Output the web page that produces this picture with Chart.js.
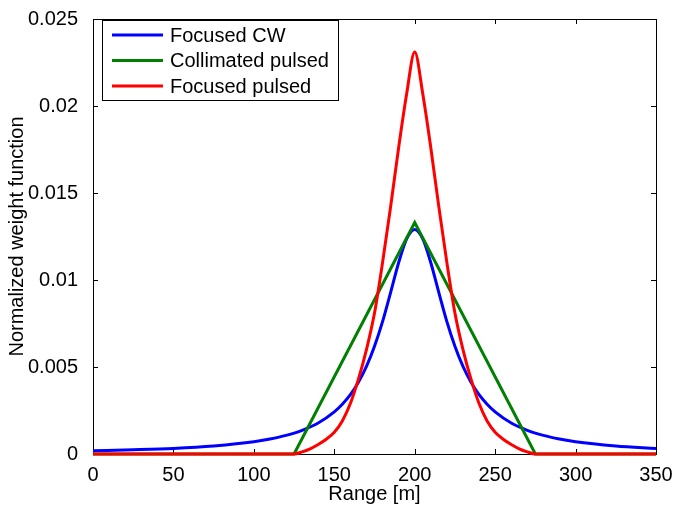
<!DOCTYPE html>
<html>
<head>
<meta charset="utf-8">
<script src="https://cdn.jsdelivr.net/npm/chart.js@4.4.0/dist/chart.umd.min.js"></script>
<style>
  html, body { margin: 0; padding: 0; background: #fff; }
  canvas { display: block; }
</style>
</head>
<body>
<canvas id="weightChart" width="674" height="508"></canvas>
<script>
// axis ticks
const xTicks = [0, 50, 100, 150, 200, 250, 300, 350];
const yTicks = [0, 0.005, 0.01, 0.015, 0.02, 0.025];
const yTickLabels = ['0', '0.005', '0.01', '0.015', '0.02', '0.025'];

// Focused CW
const cwRange = [0, 25, 50, 75, 100, 110, 120, 130, 140, 150, 155, 160, 165, 170, 175, 180, 185, 190, 195, 200,
  205, 210, 215, 220, 225, 230, 235, 240, 245, 250, 260, 270, 280, 290, 300, 325, 350];
const cwWeight = [0.00018, 0.00024, 0.00032, 0.00046, 0.00070, 0.00086, 0.00107, 0.00136, 0.00178, 0.00242,
  0.00286, 0.00341, 0.00413, 0.00503, 0.00619, 0.00761, 0.00928, 0.01099, 0.01236, 0.0129,
  0.01236, 0.01099, 0.00928, 0.00761, 0.00619, 0.00503, 0.00413, 0.00341, 0.00286, 0.00242,
  0.00178, 0.00136, 0.00107, 0.00086, 0.00070, 0.00046, 0.00032];

// Collimated pulsed
const collRange = [0, 125, 200, 275, 350];
const collWeight = [0, 0, 0.0133, 0, 0];

// Focused pulsed
const pulRange = [0, 125, 130, 135, 140, 145, 150, 155, 160, 165, 170, 175, 180, 185, 190, 195, 200,
  205, 210, 215, 220, 225, 230, 235, 240, 245, 250, 255, 260, 265, 270, 275, 350];
const pulWeight = [0, 0, 0.00012, 0.0003, 0.00055, 0.00085, 0.00125, 0.0019, 0.0029, 0.0043, 0.0060, 0.0081, 0.0110, 0.0142, 0.0176, 0.0207, 0.0231,
  0.0207, 0.0176, 0.0142, 0.0110, 0.0081, 0.0060, 0.0043, 0.0029, 0.0019, 0.00125, 0.00085, 0.00055, 0.0003, 0.00012, 0, 0];

const FONT = "'Liberation Sans', Arial, Helvetica, sans-serif";
const LINE_WIDTH = 3;

function toPoints(xs, ys) {
  return xs.map((x, i) => ({ x, y: ys[i] }));
}

// box, inner tick marks (drawn below the lines like MATLAB), legend on top
const framePlugin = {
  id: 'frame',
  beforeDatasetsDraw(chart) {
    const { ctx, chartArea: a, scales: { x, y } } = chart;
    ctx.save();
    ctx.strokeStyle = '#000';
    ctx.lineWidth = 1;
    ctx.beginPath();
    xTicks.forEach((v) => {
      const px = Math.round(x.getPixelForValue(v)) + 0.5;
      ctx.moveTo(px, a.bottom); ctx.lineTo(px, a.bottom - 5);
      ctx.moveTo(px, a.top); ctx.lineTo(px, a.top + 5);
    });
    yTicks.forEach((v) => {
      const py = Math.round(y.getPixelForValue(v)) + 0.5;
      ctx.moveTo(a.left, py); ctx.lineTo(a.left + 5, py);
      ctx.moveTo(a.right, py); ctx.lineTo(a.right - 5, py);
    });
    ctx.stroke();
    ctx.strokeRect(Math.round(a.left) + 0.5, Math.round(a.top) + 0.5, Math.round(a.right - a.left), Math.round(a.bottom - a.top));
    ctx.restore();
  },
  afterDraw(chart) {
    const { ctx } = chart;
    const box = { left: 102, top: 20, width: 236, height: 80 };
    ctx.save();
    ctx.fillStyle = '#fff';
    ctx.fillRect(box.left, box.top, box.width, box.height);
    ctx.strokeStyle = '#000';
    ctx.lineWidth = 1;
    ctx.strokeRect(box.left + 0.5, box.top + 0.5, box.width, box.height);
    ctx.font = `20px ${FONT}`;
    ctx.textBaseline = 'middle';
    chart.data.datasets.forEach((ds, i) => {
      const rowY = box.top + 15 + i * 25.5;
      ctx.strokeStyle = ds.borderColor;
      ctx.lineWidth = LINE_WIDTH;
      ctx.beginPath();
      ctx.moveTo(112, rowY);
      ctx.lineTo(163, rowY);
      ctx.stroke();
      ctx.fillStyle = '#000';
      ctx.fillText(ds.label, 170, rowY + 1);
    });
    ctx.restore();
  }
};

Chart.defaults.color = '#000';
Chart.defaults.font.family = FONT;

new Chart(document.getElementById('weightChart'), {
  type: 'line',
  data: {
    datasets: [
      { label: 'Focused CW', data: toPoints(cwRange, cwWeight), borderColor: '#0000ff', order: 3, cubicInterpolationMode: 'monotone' },
      { label: 'Collimated pulsed', data: toPoints(collRange, collWeight), borderColor: '#008000', order: 2, tension: 0 },
      { label: 'Focused pulsed', data: toPoints(pulRange, pulWeight), borderColor: '#ff0000', order: 1, cubicInterpolationMode: 'monotone' }
    ]
  },
  options: {
    responsive: false,
    animation: false,
    layout: { padding: { top: 11, right: 18, left: 0, bottom: 0 } },
    elements: {
      point: { radius: 0 },
      line: { borderWidth: LINE_WIDTH, fill: false }
    },
    datasets: { line: { clip: 6 } },
    plugins: { legend: { display: false }, tooltip: { enabled: false } },
    scales: {
      x: {
        type: 'linear',
        min: 0,
        max: 350,
        grid: { display: false },
        border: { display: false },
        afterBuildTicks: (scale) => { scale.ticks = xTicks.map((v) => ({ value: v })); },
        afterFit: (scale) => { scale.height = 54; },
        ticks: { font: { size: 20 }, padding: 1, maxRotation: 0, callback: (v) => String(v) },
        title: { display: true, text: 'Range [m]', font: { size: 20 }, padding: { top: 0, bottom: 2 } }
      },
      y: {
        min: 0,
        max: 0.025,
        grid: { display: false },
        border: { display: false },
        afterBuildTicks: (scale) => { scale.ticks = yTicks.map((v) => ({ value: v })); },
        afterFit: (scale) => { scale.width = 93; },
        ticks: { font: { size: 20 }, padding: 7, callback: (v, i) => yTickLabels[i] },
        title: { display: true, text: 'Normalized weight function', font: { size: 20 }, padding: { top: 5, bottom: 0 } }
      }
    }
  },
  plugins: [framePlugin]
});
</script>
</body>
</html>
